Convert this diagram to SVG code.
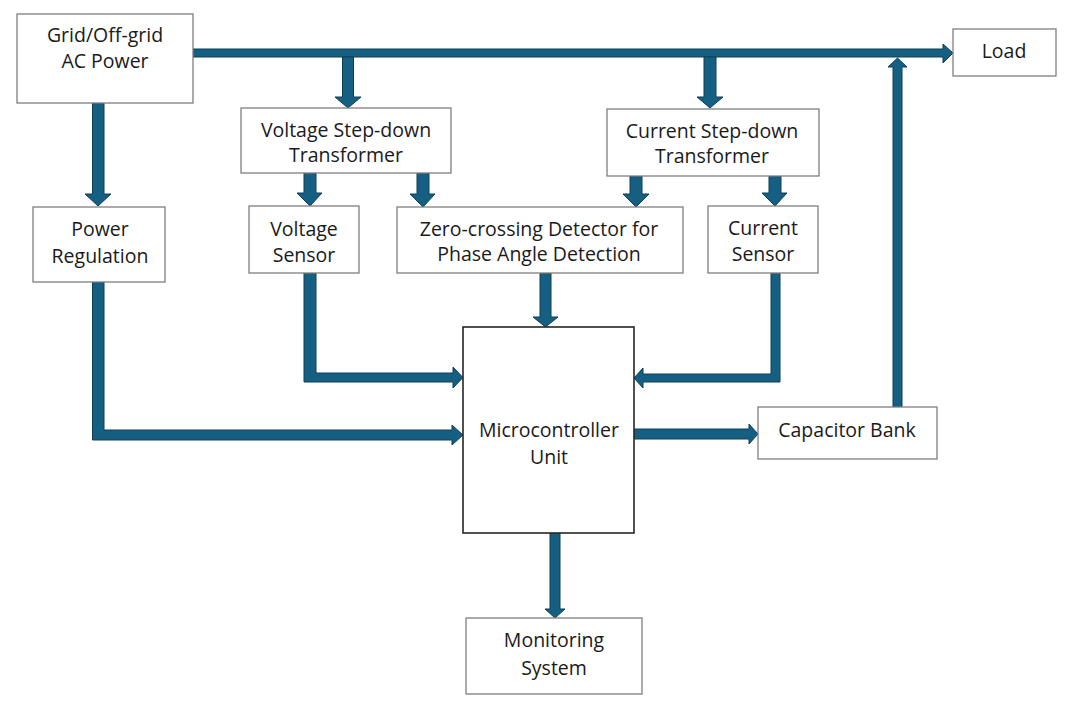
<svg xmlns="http://www.w3.org/2000/svg" width="1090" height="711" viewBox="0 0 1090 711">
<style>
.box{fill:#fff;stroke:#7f7f7f;stroke-width:1.3}
.mcu{fill:#fff;stroke:#262626;stroke-width:1.6}
.arr{fill:#156082;stroke:#0e3f57;stroke-width:1}
text{font-family:"Open Sans","Liberation Sans",Arial,sans-serif;font-size:19.5px;fill:#1a1a1a;text-anchor:middle}
</style>
<rect width="1090" height="711" fill="#fff"/>
<g id="connectors">
<polygon class="arr" points="193,49 943,49 943,44 953,53 943,63 943,57 193,57"/>
<polygon class="arr" points="342.5,57 353.5,57 353.5,97 361,97 348,108 335,97 342.5,97"/>
<polygon class="arr" points="704,57 716,57 716,97 723,97 710,108 697,97 704,97"/>
<polygon class="arr" points="92.5,103 104,103 104,194 111,194 98,206 85,194 92.5,194"/>
<polygon class="arr" points="304,173 316,173 316,193 322,193 310,206 297,193 304,193"/>
<polygon class="arr" points="417,173 429,173 429,194 435,194 423,207 410,194 417,194"/>
<polygon class="arr" points="630,176 642,176 642,194 649,194 636,207 623,194 630,194"/>
<polygon class="arr" points="769,176 781,176 781,193 787,193 775,206 762,193 769,193"/>
<polygon class="arr" points="304,273 316,273 316,373 453,373 453,367 463,377.5 453,388 453,382 304,382"/>
<polygon class="arr" points="771,273 780,273 780,382 643,382 643,388 634,378 643,368 643,374 771,374"/>
<polygon class="arr" points="92.5,282 104,282 104,430 452,430 452,425 463,435 452,445 452,440 92.5,440"/>
<polygon class="arr" points="540,273 551,273 551,317 558,317 545.5,327 533,317 540,317"/>
<polygon class="arr" points="634,429 749,429 749,424 758,434 749,444 749,439 634,439"/>
<polygon class="arr" points="550,533 560,533 560,609 565,609 555,618 545,609 550,609"/>
<polygon class="arr" points="893,407 902,407 902,67 907,67 897.5,58 888,67 893,67"/>
</g>
<g id="grid"><rect class="box" x="17" y="14" width="176" height="89"/><text x="105" y="42">Grid/Off-grid</text><text x="105" y="68">AC Power</text></g>
<g id="load"><rect class="box" x="953" y="29" width="103" height="47"/><text x="1004" y="57.5">Load</text></g>
<g id="vst"><rect class="box" x="241" y="108" width="210" height="65"/><text x="346" y="136.5">Voltage Step-down</text><text x="346" y="162">Transformer</text></g>
<g id="cst"><rect class="box" x="607" y="109" width="212" height="67"/><text x="712" y="137.5">Current Step-down</text><text x="712" y="163">Transformer</text></g>
<g id="pr"><rect class="box" x="33" y="207" width="132" height="75"/><text x="100" y="235.5">Power</text><text x="100" y="263">Regulation</text></g>
<g id="vs"><rect class="box" x="249" y="206" width="110" height="67"/><text x="304" y="235.5">Voltage</text><text x="304" y="261.5">Sensor</text></g>
<g id="zcd"><rect class="box" x="397" y="207" width="286" height="66"/><text x="539" y="236">Zero-crossing Detector for</text><text x="539" y="261">Phase Angle Detection</text></g>
<g id="cs"><rect class="box" x="708" y="206" width="110" height="67"/><text x="763" y="235">Current</text><text x="763" y="261">Sensor</text></g>
<g id="mcu"><rect class="mcu" x="463" y="327" width="171" height="206"/><text x="549" y="437">Microcontroller</text><text x="549" y="464">Unit</text></g>
<g id="cap"><rect class="box" x="758" y="407" width="179" height="52"/><text x="847" y="436.5">Capacitor Bank</text></g>
<g id="mon"><rect class="box" x="466" y="618" width="176" height="76"/><text x="554" y="646.5">Monitoring</text><text x="554" y="675">System</text></g>
</svg>
